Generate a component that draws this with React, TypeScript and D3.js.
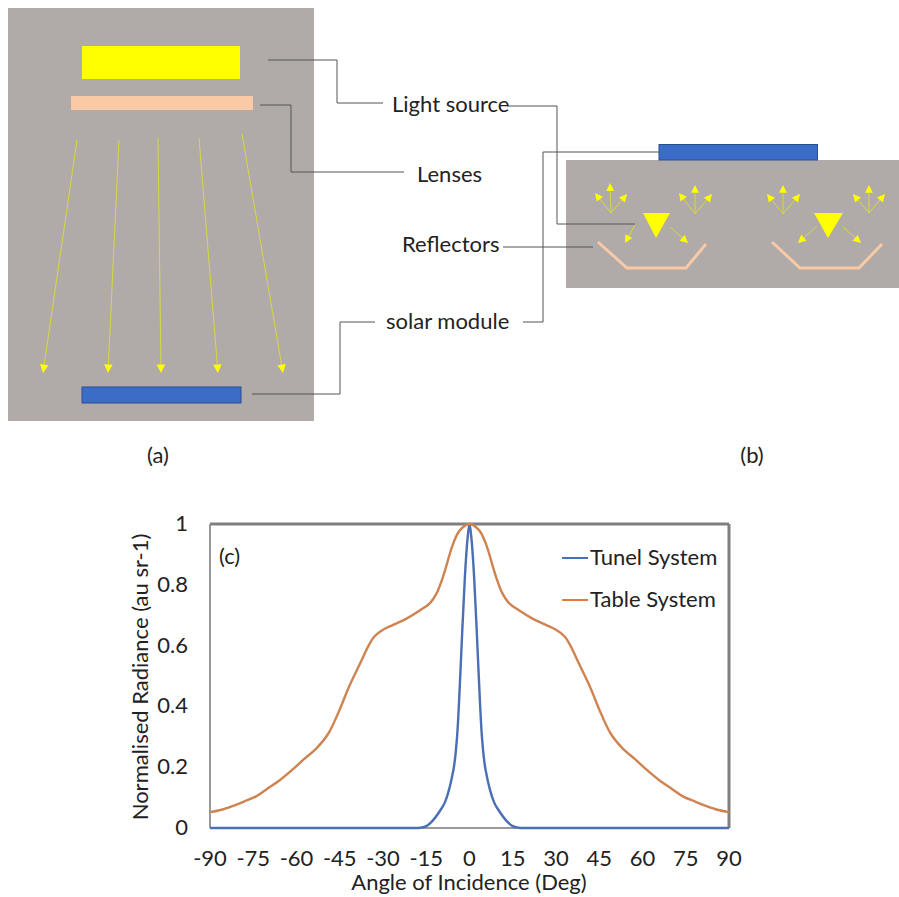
import React from "react";
import * as d3 from "d3";

// Panel (c) data
const tableAngles = [-90,-86,-82,-78,-74,-70,-65.7,-61,-57.7,-53,-49,-45,-42,-38,-35,-33,-30,-26.5,-22,-17,-13.7,-11.5,-9.2,-5.6,-3.3,0,3.3,5.6,9.2,11.5,13.7,17,22,26.5,30,33,35,38,42,45,49,53,57.7,61,65.7,70,74,78,82,86,90];
const tableValues = [0.052,0.06,0.073,0.088,0.104,0.13,0.158,0.195,0.224,0.263,0.31,0.39,0.46,0.54,0.6,0.63,0.652,0.668,0.688,0.717,0.74,0.77,0.826,0.937,0.98,1,0.98,0.937,0.826,0.77,0.74,0.717,0.688,0.668,0.652,0.63,0.6,0.54,0.46,0.39,0.31,0.263,0.224,0.195,0.158,0.13,0.104,0.088,0.073,0.06,0.052];
const tunnelAngles = [-90,-60,-30,-20,-17,-15,-12.6,-10,-8.5,-5.6,-4.4,-3.6,-2.5,-1.6,-0.7,0,0.7,1.6,2.5,3.6,4.4,5.6,8.5,10,12.6,15,17,20,30,60,90];
const tunnelValues = [0,0,0,0,0.001,0.006,0.026,0.06,0.085,0.19,0.29,0.42,0.651,0.826,0.95,1,0.95,0.826,0.651,0.42,0.29,0.19,0.085,0.06,0.026,0.006,0.001,0,0,0,0];
const xTicks = [-90,-75,-60,-45,-30,-15,0,15,30,45,60,75,90];
const yTicks = [0,0.2,0.4,0.6,0.8,1];
const seriesNames = ["Tunel System","Table System"];

// Diagram geometry
type P = [number, number];
const leaders: P[][] = [
  [[268,60],[337,60],[337,103],[383,103]],
  [[260,105],[291,105],[291,172],[404,172]],
  [[507,106],[557,106],[557,224],[635,224]],
  [[503,247],[593,247]],
  [[523,322],[543,322],[543,152],[659,152]],
  [[375,322],[340,322],[340,394],[252,394]],
];
const panelAArrows: [P, P][] = [
  [[77,140],[43,373]],[[119,140],[108,373]],[[158,138],[161,373]],[[199,138],[218,373]],[[242,134],[283,373]],
];
const panelBFans: { o: P; tips: P[] }[] = [
  { o: [611,213], tips: [[595,193],[610,183],[627,194]] },
  { o: [695,214], tips: [[679,193],[695,185],[712,194]] },
  { o: [783,214], tips: [[767,194],[783,185],[800,194]] },
  { o: [869,213], tips: [[853,194],[869,185],[885,194]] },
  { o: [635,225], tips: [[625,243]] },
  { o: [670,227], tips: [[688,243]] },
  { o: [817,226], tips: [[798,243]] },
  { o: [843,227], tips: [[861,243]] },
];
const triangles: P[][] = [
  [[643,213],[670,213],[656,238]],
  [[814,213],[843,213],[828,238]],
];
const reflectors: P[][] = [
  [[598,242],[627,268],[686,268],[706,244]],
  [[772,242],[800,268],[859,268],[882,244]],
];
const labels: { t: string; x: number; y: number; a?: string }[] = [
  { t: "Light source", x: 392, y: 112 },
  { t: "Lenses", x: 417, y: 182 },
  { t: "Reflectors", x: 402, y: 252 },
  { t: "solar module", x: 386, y: 329 },
  { t: "(a)", x: 158, y: 463, a: "middle" },
  { t: "(b)", x: 752, y: 463, a: "middle" },
];

const GRAY = "#b0aba9";
const YEL = "#ffff00";
const PEACH = "#fac9a6";
const BLUE = "#3a6cc8";
const FONT = "Lato, 'Open Sans', sans-serif";
const INK = "#222";
const FS = 22;
const line2 = d3.line();

function Arrow({ a, b, head = 5 }: { a: P; b: P; head?: number }) {
  const ang = Math.atan2(b[1] - a[1], b[0] - a[0]);
  const ux = Math.cos(ang), uy = Math.sin(ang);
  const base: P = [b[0] - ux * head * 1.7, b[1] - uy * head * 1.7];
  const tri: P[] = [b, [base[0] - uy * head * 0.85, base[1] + ux * head * 0.85], [base[0] + uy * head * 0.85, base[1] - ux * head * 0.85]];
  return (
    <g>
      <path d={line2([a, base]) ?? ""} stroke="#d8d83c" strokeWidth={1} fill="none" />
      <path d={(line2(tri) ?? "") + "Z"} fill={YEL} />
    </g>
  );
}

export default function App() {
  const x = d3.scaleLinear().domain([-90, 90]).range([210, 729]);
  const y = d3.scaleLinear().domain([0, 1]).range([828, 524]);
  const curve = d3.line<[number, number]>().x((d) => x(d[0])).y((d) => y(d[1])).curve(d3.curveCatmullRom.alpha(0.5));
  const tablePts = tableAngles.map((a, i) => [a, tableValues[i]] as [number, number]);
  const tunnelPts = tunnelAngles.map((a, i) => [a, tunnelValues[i]] as [number, number]);

  return (
    <svg width={899} height={897} style={{ position: "absolute", left: 0, top: 0, background: "#fff" }} fontFamily={FONT}>
      {/* Panel a */}
      <rect x={8} y={8} width={306} height={413} fill={GRAY} />
      <rect x={82} y={46} width={158} height={33} fill={YEL} />
      <rect x={71} y={96} width={182} height={14} fill={PEACH} />
      {panelAArrows.map(([a, b], i) => <Arrow key={i} a={a} b={b} />)}
      <rect x={82} y={387} width={159} height={16} fill={BLUE} stroke="#2a4f90" strokeWidth={1} />

      {/* Panel b */}
      <rect x={566} y={160} width={333} height={128} fill={GRAY} />
      <rect x={659} y={144.5} width={158.5} height={15.5} fill={BLUE} stroke="#2a4f90" strokeWidth={1} />
      {triangles.map((t, i) => <path key={i} d={(line2(t) ?? "") + "Z"} fill={YEL} />)}
      {panelBFans.flatMap((f, i) => f.tips.map((tip, j) => <Arrow key={`${i}-${j}`} a={f.o} b={tip} head={4.6} />))}
      {reflectors.map((r, i) => <path key={i} d={line2(r) ?? ""} fill="none" stroke={PEACH} strokeWidth={3} />)}

      {/* Leaders */}
      {leaders.map((l, i) => <path key={i} d={line2(l) ?? ""} fill="none" stroke="#555" strokeWidth={1} />)}
      {labels.map((l, i) => (
        <text key={i} x={l.x} y={l.y} textAnchor={(l.a as any) ?? "start"} fontSize={FS} fill={INK}>{l.t}</text>
      ))}

      {/* Panel c */}
      <line x1={x(-90)} x2={x(-90)} y1={y(1)} y2={y(0)} stroke="#999" strokeWidth={2} />
      <line x1={x(-90)} x2={x(90)} y1={y(0)} y2={y(0)} stroke="#999" strokeWidth={2} />
      <line x1={x(-90)} x2={x(90)} y1={y(1)} y2={y(1)} stroke="#7f7f7f" strokeWidth={3} />
      <line x1={x(90)} x2={x(90)} y1={y(1)} y2={y(0)} stroke="#7f7f7f" strokeWidth={3} />
      <path d={curve(tunnelPts) ?? ""} fill="none" stroke="#4a6fb5" strokeWidth={2.4} />
      <path d={curve(tablePts) ?? ""} fill="none" stroke="#cf8350" strokeWidth={2.4} />
      {xTicks.map((t) => (
        <text key={t} x={x(t)} y={866} textAnchor="middle" fontSize={FS} fill={INK}>{t}</text>
      ))}
      {yTicks.map((t) => (
        <text key={t} x={188} y={y(t) + 7} textAnchor="end" fontSize={FS} fill={INK}>{t}</text>
      ))}
      <text x={469} y={890} textAnchor="middle" fontSize={FS} fill={INK}>Angle of Incidence (Deg)</text>
      <text transform="translate(148,677) rotate(-90)" textAnchor="middle" fontSize={FS} fill={INK}>Normalised Radiance (au sr-1)</text>
      <text x={219} y={564} fontSize={FS} fill={INK}>(c)</text>
      {seriesNames.map((n, i) => (
        <g key={n}>
          <line x1={562} x2={588} y1={558 + i * 42} y2={558 + i * 42} stroke={i === 0 ? "#4a6fb5" : "#e07b3f"} strokeWidth={2} />
          <text x={590} y={565 + i * 42} fontSize={FS} fill={INK}>{n}</text>
        </g>
      ))}
    </svg>
  );
}
